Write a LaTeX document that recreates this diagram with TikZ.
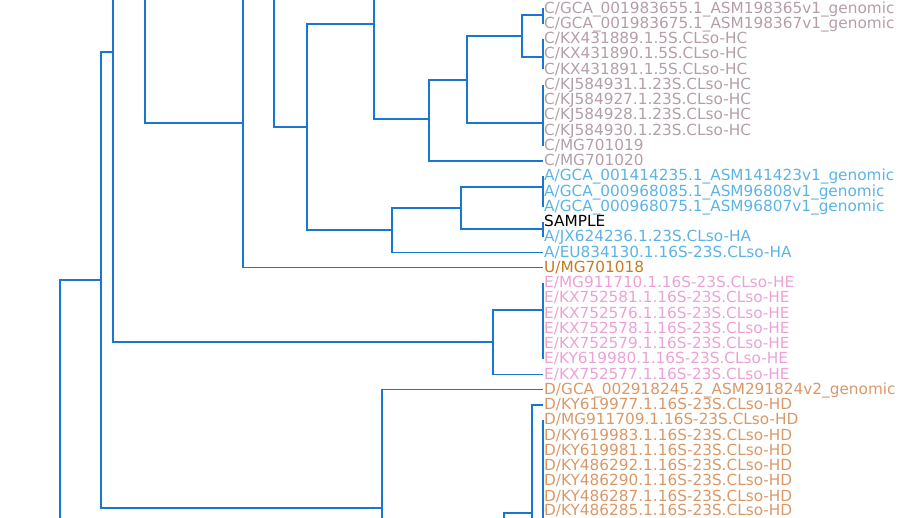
\documentclass[tikz,border=0pt]{standalone}
\usepackage{fontspec}
\setmainfont{DejaVu Sans}
\definecolor{treeblue}{HTML}{1976D2}
\definecolor{cladeC}{RGB}{180,158,170}
\definecolor{cladeA}{RGB}{92,180,230}
\definecolor{cladeU}{RGB}{196,124,32}
\definecolor{cladeE}{RGB}{236,162,214}
\definecolor{cladeD}{RGB}{218,152,104}
\begin{document}
\begin{tikzpicture}[x=1pt, y=-1pt,
  branch/.style={draw=treeblue, line width=1.2pt},
  leaf/.style={anchor=west, inner xsep=1pt, inner ysep=0pt, text height=9.2pt, text depth=0pt,
    font=\fontsize{15.3pt}{15.3pt}\selectfont}]
 \useasboundingbox (0,0) rectangle (912,518);
 \clip (0,0) rectangle (912,518);
 % leaves
 \node[leaf,text=cladeC] (l0) at (543,8.5) {C/GCA\_001983655.1\_ASM198365v1\_genomic};
 \node[leaf,text=cladeC] (l1) at (543,23.75) {C/GCA\_001983675.1\_ASM198367v1\_genomic};
 \node[leaf,text=cladeC] (l2) at (543,39) {C/KX431889.1.5S.CLso-HC};
 \node[leaf,text=cladeC] (l3) at (543,54.25) {C/KX431890.1.5S.CLso-HC};
 \node[leaf,text=cladeC] (l4) at (543,69.5) {C/KX431891.1.5S.CLso-HC};
 \node[leaf,text=cladeC] (l5) at (543,84.75) {C/KJ584931.1.23S.CLso-HC};
 \node[leaf,text=cladeC] (l6) at (543,100) {C/KJ584927.1.23S.CLso-HC};
 \node[leaf,text=cladeC] (l7) at (543,115.25) {C/KJ584928.1.23S.CLso-HC};
 \node[leaf,text=cladeC] (l8) at (543,130.5) {C/KJ584930.1.23S.CLso-HC};
 \node[leaf,text=cladeC] (l9) at (543,145.75) {C/MG701019};
 \node[leaf,text=cladeC] (l10) at (543,161) {C/MG701020};
 \node[leaf,text=cladeA] (l11) at (543,176.25) {A/GCA\_001414235.1\_ASM141423v1\_genomic};
 \node[leaf,text=cladeA] (l12) at (543,191.5) {A/GCA\_000968085.1\_ASM96808v1\_genomic};
 \node[leaf,text=cladeA] (l13) at (543,206.75) {A/GCA\_000968075.1\_ASM96807v1\_genomic};
 \node[leaf,text=black] (l14) at (543,222) {SAMPLE};
 \node[leaf,text=cladeA] (l15) at (543,237.25) {A/JX624236.1.23S.CLso-HA};
 \node[leaf,text=cladeA] (l16) at (543,252.5) {A/EU834130.1.16S-23S.CLso-HA};
 \node[leaf,text=cladeU] (l17) at (543,267.75) {U/MG701018};
 \node[leaf,text=cladeE] (l18) at (543,283) {E/MG911710.1.16S-23S.CLso-HE};
 \node[leaf,text=cladeE] (l19) at (543,298.25) {E/KX752581.1.16S-23S.CLso-HE};
 \node[leaf,text=cladeE] (l20) at (543,313.5) {E/KX752576.1.16S-23S.CLso-HE};
 \node[leaf,text=cladeE] (l21) at (543,328.75) {E/KX752578.1.16S-23S.CLso-HE};
 \node[leaf,text=cladeE] (l22) at (543,344) {E/KX752579.1.16S-23S.CLso-HE};
 \node[leaf,text=cladeE] (l23) at (543,359.25) {E/KY619980.1.16S-23S.CLso-HE};
 \node[leaf,text=cladeE] (l24) at (543,374.5) {E/KX752577.1.16S-23S.CLso-HE};
 \node[leaf,text=cladeD] (l25) at (543,389.75) {D/GCA\_002918245.2\_ASM291824v2\_genomic};
 \node[leaf,text=cladeD] (l26) at (543,405) {D/KY619977.1.16S-23S.CLso-HD};
 \node[leaf,text=cladeD] (l27) at (543,420.25) {D/MG911709.1.16S-23S.CLso-HD};
 \node[leaf,text=cladeD] (l28) at (543,435.5) {D/KY619983.1.16S-23S.CLso-HD};
 \node[leaf,text=cladeD] (l29) at (543,450.75) {D/KY619981.1.16S-23S.CLso-HD};
 \node[leaf,text=cladeD] (l30) at (543,466) {D/KY486292.1.16S-23S.CLso-HD};
 \node[leaf,text=cladeD] (l31) at (543,481.25) {D/KY486290.1.16S-23S.CLso-HD};
 \node[leaf,text=cladeD] (l32) at (543,496.5) {D/KY486287.1.16S-23S.CLso-HD};
 \node[leaf,text=cladeD] (l33) at (543,511.25) {D/KY486285.1.16S-23S.CLso-HD};
 % internal nodes
 \coordinate (n0) at (60,560);
 \coordinate (n1) at (101,280);
 \coordinate (n2) at (113,52);
 \coordinate (n2top) at (140,-238);
 \coordinate (nE) at (493,342);
 \coordinate (tE) at (543,310);
 \coordinate (n3) at (382,508);
 \coordinate (n3low) at (420,626);
 \coordinate (nD) at (504,600);
 \coordinate (nD1) at (532,513);
 \coordinate (nD1low) at (532,560);
 \coordinate (tD) at (543,560);
 \coordinate (nA) at (145,-100);
 \coordinate (nU) at (243,123);
 \coordinate (n274) at (274,-21);
 \coordinate (n274top) at (300,-169);
 \coordinate (n307) at (307,127);
 \coordinate (n374) at (374,24);
 \coordinate (n374top) at (400,-71);
 \coordinate (n429) at (429,119);
 \coordinate (n467) at (467,80);
 \coordinate (n522) at (522,36);
 \coordinate (tGC) at (543,15);
 \coordinate (tKX) at (543,57);
 \coordinate (tKJ) at (543,123);
 \coordinate (nAA) at (392,230);
 \coordinate (nA2) at (461,208);
 \coordinate (tGA) at (543,187);
 \coordinate (tSA) at (543,229);
 % branches
 \draw[branch] (n0) |- (n1);
 \draw[branch] (n1) |- (n2) (n1) |- (n3);
 \draw[branch] (n2) |- (n2top) (n2) |- (nE);
 \draw[branch] (nE) |- (tE) (nE) |- (l24.west);
 \draw[branch] (l18.west) -- (l23.west);
 \draw[branch] (n3) |- (l25.west) (n3) |- (n3low);
 \draw[branch] (nD) |- (nD1) (nD1) |- (l26.west) (nD1) -- (nD1low);
 \draw[branch] (l27.west) -- (tD);
 \draw[branch] (nA) |- (nU);
 \draw[branch] (nU) |- (n274) (nU) |- (l17.west);
 \draw[branch] (n274) |- (n274top) (n274) |- (n307);
 \draw[branch] (n307) |- (n374) (n307) |- (nAA);
 \draw[branch] (n374) |- (n374top) (n374) |- (n429);
 \draw[branch] (n429) |- (n467) (n429) |- (l10.west);
 \draw[branch] (n467) |- (n522) (n467) |- (tKJ);
 \draw[branch] (n522) |- (tGC) (n522) |- (tKX);
 \draw[branch] (l0.west) -- (l1.west) (l2.west) -- (l4.west) (l5.west) -- (l9.west);
 \draw[branch] (nAA) |- (nA2) (nAA) |- (l16.west);
 \draw[branch] (nA2) |- (tGA) (nA2) |- (tSA);
 \draw[branch] (l11.west) -- (l13.west) (l14.west) -- (l15.west);
\end{tikzpicture}
\end{document}
